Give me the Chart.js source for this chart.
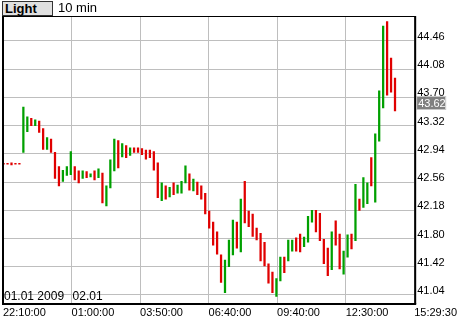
<!DOCTYPE html>
<html>
<head>
<meta charset="utf-8">
<script src="https://cdn.jsdelivr.net/npm/chart.js@4.4.1/dist/chart.umd.min.js"></script>
<style>
  html, body { margin: 0; padding: 0; background: #fff; }
  #wrap { position: relative; width: 460px; height: 320px; font-family: "Liberation Sans", Arial, sans-serif; }
  #style-btn { position: absolute; left: 2px; top: 1px; width: 47px; height: 13px; padding-left: 2px;
    border: 1px solid #333; background: #e0e0e0; font-weight: bold; font-size: 13px; line-height: 13px; }
  #period { position: absolute; left: 58px; top: 1px; font-size: 13px; line-height: 14px; }
  #chart { position: absolute; left: 0; top: 0; }
</style>
</head>
<body>
<div id="wrap">
  <canvas id="chart" width="460" height="320"></canvas>
  <div id="style-btn">Light</div>
  <div id="period">10 min</div>
</div>
<script>
// one bar every 10 minutes, high / low of each bar
const highs = [
  42.81, 42.81, 42.82, 42.81, 42.81, 43.57, 43.44, 43.42, 43.40, 43.38,
  43.28, 43.16, 43.14, 42.96, 42.77, 42.72, 42.77, 42.97, 42.77, 42.71,
  42.71, 42.70, 42.67, 42.71, 42.74, 42.68, 42.51, 42.86, 43.14, 43.12,
  43.08, 43.05, 43.02, 43.02, 43.02, 43.01, 42.99, 42.99, 42.97, 42.82,
  42.55, 42.51, 42.49, 42.55, 42.52, 42.57, 42.78, 42.67, 42.60, 42.56,
  42.51, 42.41, 42.17, 42.02, 41.89, 41.58, 41.51, 41.78, 42.05, 42.02,
  42.33, 42.57, 42.17, 42.13, 41.94, 41.87, 41.75, 41.46, 41.35, 41.26,
  41.55, 41.55, 41.78, 41.78, 41.81, 41.86, 41.82, 42.10, 42.18, 42.18,
  42.14, 41.79, 41.67, 41.89, 42.04, 41.86, 41.63, 41.85, 41.86, 42.53,
  42.33, 42.62, 42.55, 42.89, 43.21, 43.79, 44.66, 44.72, 44.23, 43.96
];
const lows = [
  42.80, 42.80, 42.79, 42.80, 42.80, 42.96, 43.24, 43.32, 43.32, 43.23,
  43.00, 43.00, 42.96, 42.61, 42.51, 42.57, 42.65, 42.66, 42.59, 42.55,
  42.61, 42.62, 42.63, 42.59, 42.62, 42.28, 42.24, 42.48, 42.71, 42.75,
  42.90, 42.89, 42.92, 42.96, 42.96, 42.93, 42.87, 42.89, 42.72, 42.35,
  42.31, 42.33, 42.36, 42.39, 42.41, 42.41, 42.55, 42.45, 42.44, 42.39,
  42.33, 42.13, 41.94, 41.71, 41.59, 41.21, 41.07, 41.42, 41.58, 41.67,
  41.62, 42.01, 41.96, 41.83, 41.78, 41.50, 41.43, 41.20, 41.07, 41.02,
  41.23, 41.34, 41.50, 41.63, 41.63, 41.62, 41.69, 41.75, 42.02, 41.89,
  41.77, 41.46, 41.30, 41.38, 41.71, 41.39, 41.32, 41.55, 41.66, 41.77,
  42.18, 42.22, 42.27, 42.51, 42.29, 43.11, 43.56, 43.73, 43.77, 43.52
];
// 1 = up bar (green), -1 = down bar (red)
const dirs = [
  -1, -1, -1, -1, -1, 1, 1, -1, 1, -1,
  -1, 1, -1, -1, -1, 1, 1, 1, -1, -1,
  1, -1, 1, -1, 1, -1, 1, 1, 1, -1,
  1, -1, 1, -1, -1, -1, -1, -1, -1, -1,
  1, -1, 1, -1, 1, 1, 1, -1, 1, -1,
  -1, -1, -1, -1, -1, -1, 1, 1, 1, -1,
  1, -1, -1, -1, -1, -1, -1, -1, -1, 1,
  1, -1, 1, 1, -1, -1, 1, 1, 1, -1,
  -1, -1, -1, 1, -1, -1, 1, 1, -1, 1,
  -1, 1, 1, -1, 1, 1, 1, -1, -1, -1
];
const timeLabels = ['22:10:00', '01:00:00', '03:50:00', '06:40:00', '09:40:00', '12:30:00', '15:29:30'];
const priceTicks = [41.04, 41.42, 41.80, 42.18, 42.56, 42.94, 43.32, 43.70, 44.08, 44.46];
const dateLabels = ['01.01 2009', '02.01'];
const lastPrice = 43.62;

const UP = '#00a000';
const DOWN = '#e00000';
const X_MIN = -0.15, X_MAX = 103.85;

Chart.defaults.font.family = '"Liberation Sans", Arial, sans-serif';
Chart.defaults.color = '#000';

const frame = {
  id: 'frame',
  afterDatasetsDraw(chart) {
    const { ctx, chartArea: a, scales } = chart;
    ctx.save();
    // day markers at the bottom of the plot
    ctx.font = '12px "Liberation Sans", Arial, sans-serif';
    ctx.fillStyle = '#000';
    ctx.textBaseline = 'alphabetic';
    ctx.fillText(dateLabels[0], a.left + 1, a.bottom - 3);
    const x1 = scales.x.getPixelForValue(scales.x.ticks[1].value);
    ctx.fillText(dateLabels[1], x1 + 1, a.bottom - 3);
    // plot border
    ctx.fillStyle = '#000';
    ctx.fillRect(a.left - 1, a.top - 1, 2, a.bottom - a.top + 2);
    ctx.fillRect(a.left - 1, a.top - 1, a.right - a.left + 2, 1);
    ctx.fillRect(a.right, a.top - 1, 2, a.bottom - a.top + 2);
    ctx.fillRect(a.left - 1, a.bottom, a.right - a.left + 3, 2);
    ctx.restore();
  },
  afterDraw(chart) {
    const { ctx, chartArea: a, scales } = chart;
    const y = Math.round(scales.y.getPixelForValue(lastPrice));
    ctx.save();
    ctx.fillStyle = '#808080';
    ctx.fillRect(a.right + 2, y - 7, 29, 14);
    ctx.strokeStyle = '#c8c8c8';
    ctx.lineWidth = 1;
    ctx.strokeRect(a.right + 2.5, y - 6.5, 29, 13);
    ctx.fillStyle = '#fff';
    ctx.font = '11px "Liberation Sans", Arial, sans-serif';
    ctx.textBaseline = 'middle';
    ctx.fillText(lastPrice.toFixed(2), a.right + 4, y + 0.5);
    ctx.restore();
  }
};

new Chart(document.getElementById('chart'), {
  type: 'bar',
  data: {
    datasets: [{
      data: highs.map((h, i) => ({ x: i, y: [lows[i], h] })),
      backgroundColor: dirs.map(d => d > 0 ? UP : DOWN),
      barThickness: 1.6,
      minBarLength: 1,
      borderWidth: 0
    }]
  },
  plugins: [frame],
  options: {
    responsive: false,
    animation: false,
    events: [],
    layout: { padding: { top: 17, left: 3, right: 0, bottom: 0 } },
    plugins: { legend: { display: false }, tooltip: { enabled: false } },
    scales: {
      x: {
        type: 'linear',
        offset: false,
        min: X_MIN,
        max: X_MAX,
        afterBuildTicks: s => {
          s.ticks = timeLabels.map((t, i) => ({ value: X_MIN + i * (X_MAX - X_MIN) / 6 }));
        },
        afterFit: s => { s.height = 17; },
        grid: { color: '#bebebe', drawTicks: false, offset: false },
        border: { display: false },
        ticks: {
          autoSkip: false,
          maxRotation: 0,
          align: 'start',
          padding: 3,
          font: { size: 11 },
          callback: (v, i) => timeLabels[i]
        }
      },
      y: {
        position: 'right',
        min: 40.932,
        max: 44.783,
        afterBuildTicks: s => {
          s.ticks = priceTicks.map(v => ({ value: v }));
        },
        afterFit: s => { s.width = 44; },
        grid: { color: '#bebebe', drawTicks: false },
        border: { display: false },
        ticks: {
          autoSkip: false,
          padding: 3,
          labelOffset: -4,
          font: { size: 11 },
          callback: v => v.toFixed(2)
        }
      }
    }
  }
});
</script>
</body>
</html>
